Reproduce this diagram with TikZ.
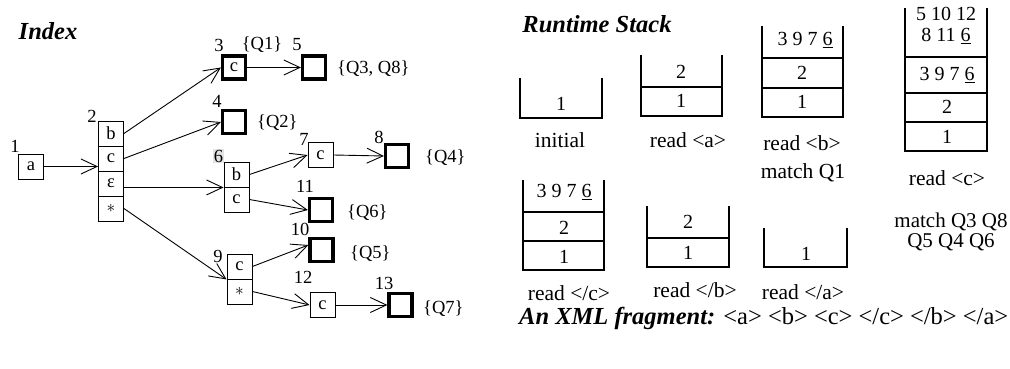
\documentclass[tikz,border=0pt]{standalone}
\usepackage{fontspec}
\setmainfont{Liberation Serif}
\usetikzlibrary{arrows.meta}
\newcommand\idxf{\fontsize{18.5}{20}\selectfont}
\newcommand\stkf{\fontsize{20}{22}\selectfont}
\newcommand\lblf{\fontsize{21.5}{23}\selectfont}
\newcommand\ttlf{\fontsize{24.5}{26}\selectfont\bfseries\itshape}
\begin{document}
\begin{tikzpicture}[x=1pt,y=-1pt,
 cell/.style={draw,line width=0.9pt,minimum width=25pt,minimum height=25pt,inner sep=0pt,font=\idxf},
 fin/.style={draw,line width=3.2pt,minimum width=23pt,minimum height=23pt,inner sep=0pt,font=\idxf},
 num/.style={inner sep=0pt,font=\idxf},
 qs/.style={inner sep=0pt,font=\idxf,anchor=west},
 arr/.style={line width=0.9pt,-{Straight Barb[length=16pt,width=15pt]}},
 stk/.style={line width=1.3pt},
 sepl/.style={line width=1.1pt},
 sval/.style={inner sep=0pt,font=\stkf},
 slbl/.style={inner sep=0pt,font=\lblf},
 ttl/.style={inner sep=0pt,font=\ttlf}]
\useasboundingbox (0,0) rectangle (1010,369);

% ---------------- Index ----------------
\node[ttl] (tIdx) at (48,31) {Index};

\node[cell] (n1) at (31,166.5) {a};
\node[num] (l1) at (15,146) {1};

\node[cell] (n2b) at (111,133.5) {b};
\node[cell] (n2c) at (111,158.5) {c};
\node[cell] (n2e) at (111,183.5) {ε};
\node[cell] (n2s) at (111,208.5) {$*$};
\node[num] (l2) at (92,116) {2};

\node[fin] (n3) at (234,67.5) {c};
\node[num] (l3) at (219,45) {3};
\node[num] (q1) at (262,45) {\{Q1\}};
\node[num] (l5) at (297,45) {5};
\node[fin] (n5) at (314,67.5) {};
\node[qs] (q38) at (337,69) {\{Q3, Q8\}};

\node[fin] (n4) at (234,122) {};
\node[num] (l4) at (217,101) {4};
\node[qs] (q2) at (257,123) {\{Q2\}};

\node[cell] (n6b) at (236.5,174.5) {b};
\node[cell] (n6c) at (236.5,199.5) {c};
\node[num,fill=gray!22,inner sep=0.5pt] (l6) at (218.5,156) {6};

\node[cell] (n7) at (320.5,155) {c};
\node[num] (l7) at (304,139) {7};
\node[fin] (n8) at (397,156) {};
\node[num] (l8) at (379,137) {8};
\node[qs] (q4) at (425,158) {\{Q4\}};

\node[fin] (n11) at (321,210) {};
\node[num] (l11) at (305,186) {11};
\node[qs] (q6) at (347,213) {\{Q6\}};

\node[fin] (n10) at (321.5,250) {};
\node[num] (l10) at (300,229) {10};
\node[qs] (q5) at (350,254) {\{Q5\}};

\node[cell] (n9c) at (239.5,266.5) {c};
\node[cell] (n9s) at (239.5,291.5) {$*$};
\node[num] (l9) at (218,256) {9};

\node[cell] (n12) at (322.5,305) {c};
\node[num] (l12) at (303,277) {12};
\node[fin] (n13) at (400.5,305) {};
\node[num] (l13) at (384,283) {13};
\node[qs] (q7) at (423,309) {\{Q7\}};

\draw[arr] (n1.east) -- (n1.east -| n2c.west);
\draw[arr] (n2b.east) -- (n3.west);
\draw[arr] (n2c.east) -- (n4.west);
\draw[arr] (n6b.south west -| n2e.east) -- (n6b.south west);
\draw[arr] (n2s.east) -- (n9c.south west);
\draw[arr] (n3.east) -- (n5.west);
\draw[arr] (n6b.east) -- (n7.west);
\draw[arr] (n6c.east) -- (n11.west);
\draw[arr] (n7.east) -- (n8.west);
\draw[arr] (n9c.east) -- ([yshift=5pt]n10.west);
\draw[arr] (n9s.east) -- (n12.west);
\draw[arr] (n12.east) -- (n13.west);

% ---------------- Runtime stack ----------------
\node[ttl] (tRun) at (597,24) {Runtime Stack};

% initial
\draw[stk] (520,78) -- (520,118) -- (602,118) -- (602,78);
\node[sval] (s1a) at (561,104) {1};
\node[slbl] (s1l) at (560,140) {initial};

% read <a>
\draw[stk] (641,55) -- (641,116) -- (722,116) -- (722,55);
\draw[sepl] (641,87) -- (722,87);
\node[sval] (s2b) at (681,72) {2};
\node[sval] (s2a) at (681,101) {1};
\node[slbl] (s2l) at (688,140) {read <a>};

% read <b>
\draw[stk] (762,26) -- (762,117) -- (843,117) -- (843,26);
\draw[sepl] (762,58) -- (843,58);
\draw[sepl] (762,88) -- (843,88);
\node[sval] (s3c) at (805,40) {3 9 7 \underline{6}};
\node[sval] (s3b) at (802,73) {2};
\node[sval] (s3a) at (802,102) {1};
\node[slbl] (s3l) at (802,143) {read <b>};
\node[slbl] (s3m) at (803,173) {match Q1};

% read <c>
\draw[stk] (905,8) -- (905,151) -- (987,151) -- (987,8);
\draw[stk] (905,57) -- (987,57);
\draw[sepl] (905,93) -- (987,93);
\draw[sepl] (905,122) -- (987,122);
\node[sval] (s4e) at (946,14) {5 10 12};
\node[sval] (s4d) at (946,36) {8 11 \underline{6}};
\node[sval] (s4c) at (947,75) {3 9 7 \underline{6}};
\node[sval] (s4b) at (947,107) {2};
\node[sval] (s4a) at (947,137) {1};
\node[slbl] (s4l) at (947,178) {read <c>};
\node[slbl,font=\fontsize{21}{23}\selectfont] (s4m) at (951,222) {match Q3 Q8};
\node[slbl,font=\fontsize{21}{23}\selectfont] (s4n) at (951,242) {Q5 Q4 Q6};

% read </c>
\draw[stk] (523,180) -- (523,270) -- (604,270) -- (604,180);
\draw[sepl] (523,212) -- (604,212);
\draw[sepl] (523,241) -- (604,241);
\node[sval] (s5c) at (564,192) {3 9 7 \underline{6}};
\node[sval] (s5b) at (564,228) {2};
\node[sval] (s5a) at (564,257) {1};
\node[slbl] (s5l) at (569,293) {read </c>};

% read </b>
\draw[stk] (647,206) -- (647,267) -- (729,267) -- (729,206);
\draw[sepl] (647,238) -- (729,238);
\node[sval] (s6b) at (688,222) {2};
\node[sval] (s6a) at (688,253) {1};
\node[slbl] (s6l) at (695,290) {read </b>};

% read </a>
\draw[stk] (764,228) -- (764,267) -- (847,267) -- (847,228);
\node[sval] (s7a) at (806,254) {1};
\node[slbl] (s7l) at (803,292) {read </a>};

% XML fragment
\node[inner sep=0pt,anchor=west,font=\fontsize{24.5}{26}\selectfont] (xml) at (519,318) {{\bfseries\itshape An XML fragment:} <a> <b> <c> </c> </b> </a>};
\end{tikzpicture}
\end{document}
